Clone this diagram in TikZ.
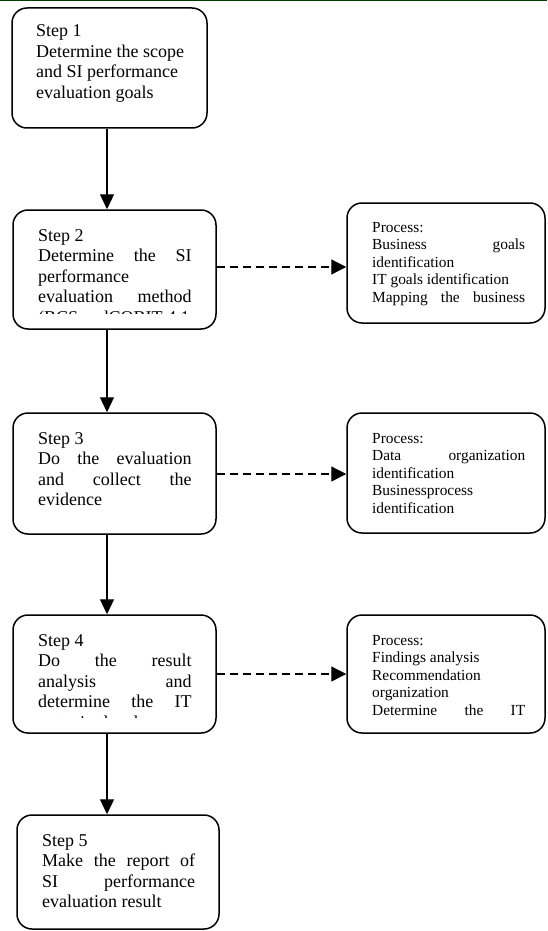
\documentclass[tikz,border=0pt]{standalone}
\usepackage{fontspec}
\setmainfont{Liberation Serif}
\usetikzlibrary{arrows.meta,calc}
\definecolor{topgreen}{RGB}{0,60,0}
\newcommand\JL[1]{\makebox[153.5pt][s]{#1}}
\newcommand\JR[1]{\makebox[153pt][s]{#1}}
\newcommand\Ln[1]{\hbox{#1}}
\tikzset{
  stepbox/.style={draw, line width=1.5pt, rounded corners=15pt, inner sep=0pt},
  bigtext/.style={anchor=base west, inner sep=0pt, font=\fontsize{18}{20.5}\selectfont},
  smalltext/.style={anchor=base west, inner sep=0pt, font=\fontsize{15.4}{17.5}\selectfont},
  arr/.style={line width=1.3pt, -{Triangle[length=15pt,width=14pt]}},
  darr/.style={line width=1.3pt, dash pattern=on 8pt off 5pt, -{Triangle[length=15pt,width=15pt]}},
  topline/.style={draw=topgreen, line width=1.5pt},
}
\begin{document}
\begin{tikzpicture}[x=1pt,y=-1pt]
\fill[white] (0,0) rectangle (547,931);
\useasboundingbox (0,0) rectangle (547,931);
\draw[topline] (0,0.75) -- (547,0.75);

% step boxes
\node[stepbox, minimum width=195pt, minimum height=120pt] (b1) at (109.5,68) {};
\node[stepbox, minimum width=203pt, minimum height=119pt] (b2) at (114.5,269.5) {};
\node[stepbox, minimum width=203pt, minimum height=121pt] (b3) at (114.5,473.5) {};
\node[stepbox, minimum width=203pt, minimum height=118pt] (b4) at (114.5,674) {};
\node[stepbox, minimum width=202pt, minimum height=114pt] (b5) at (118,872) {};
% process boxes
\node[stepbox, minimum width=198pt, minimum height=120pt] (r2) at (446,263) {};
\node[stepbox, minimum width=198pt, minimum height=120pt] (r3) at (446,473) {};
\node[stepbox, minimum width=198pt, minimum height=118pt] (r4) at (446,674) {};

% texts
\node[bigtext] (t1) at (36,37) {\vtop{\Ln{Step 1}\Ln{Determine the scope}\Ln{and SI performance}\Ln{evaluation goals}}};
\begin{scope}
  \clip (b2.north west) rectangle ([yshift=16pt]b2.south east);
  \node[bigtext] (t2) at (38,241) {\vtop{\Ln{Step 2}\Ln{\JL{Determine the SI}}\Ln{performance}\Ln{\JL{evaluation method}}\Ln{(BCS andCOBIT 4.1}}};
\end{scope}
\node[bigtext] (t3) at (38,444) {\vtop{\Ln{Step 3}\Ln{\JL{Do the evaluation}}\Ln{\JL{and collect the}}\Ln{evidence}}};
\begin{scope}
  \clip (b4.north west) rectangle ([yshift=16pt]b4.south east);
  \node[bigtext] (t4) at (38,646) {\vtop{\Ln{Step 4}\Ln{\JL{Do the result}}\Ln{\JL{analysis and}}\Ln{\JL{determine the IT}}\Ln{maturity level}}};
\end{scope}
\node[bigtext] (t5) at (42,846) {\vtop{\Ln{Step 5}\Ln{\JR{Make the report of}}\Ln{\JR{SI performance}}\Ln{evaluation result}}};

\node[smalltext] (p2) at (372,232) {\vtop{\Ln{Process:}\Ln{\JR{Business goals}}\Ln{identification}\Ln{IT goals identification}\Ln{\JR{Mapping the business}}}};
\node[smalltext] (p3) at (372,443) {\vtop{\Ln{Process:}\Ln{\JR{Data organization}}\Ln{identification}\Ln{Businessprocess}\Ln{identification}}};
\node[smalltext] (p4) at (372,645) {\vtop{\Ln{Process:}\Ln{Findings analysis}\Ln{Recommendation}\Ln{organization}\Ln{\JR{Determine the IT}}}};

% connectors
\coordinate (ax) at (107,0);
\draw[arr] (b1.south -| ax) -- (b2.north -| ax);
\draw[arr] (b2.south -| ax) -- (b3.north -| ax);
\draw[arr] (b3.south -| ax) -- (b4.north -| ax);
\draw[arr] (b4.south -| ax) -- (b5.north -| ax);

\coordinate (d2) at (0,267);
\coordinate (d3) at (0,474);
\coordinate (d4) at (0,674);
\draw[darr] (b2.east |- d2) -- (r2.west |- d2);
\draw[darr] (b3.east |- d3) -- (r3.west |- d3);
\draw[darr] (b4.east |- d4) -- (r4.west |- d4);
\end{tikzpicture}
\end{document}
